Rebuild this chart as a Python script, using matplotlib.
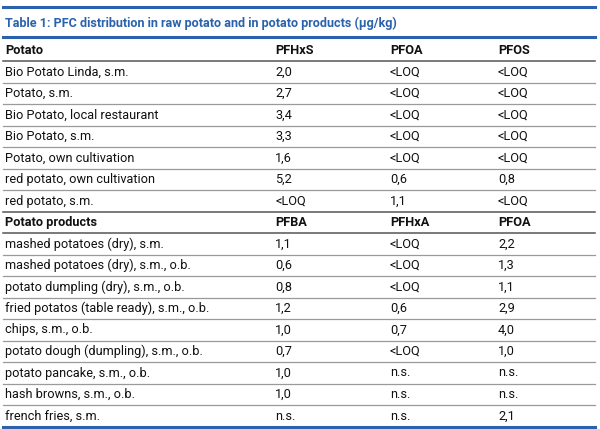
import matplotlib
matplotlib.use("Agg")
import matplotlib.pyplot as plt

plt.rcParams['font.family'] = ['Roboto', 'DejaVu Sans']

title = 'Table 1: PFC distribution in raw potato and in potato products (µg/kg)'

header1 = ['Potato', 'PFHxS', 'PFOA', 'PFOS']
potato = ['Bio Potato Linda, s.m.', 'Potato, s.m.', 'Bio Potato, local restaurant',
          'Bio Potato, s.m.', 'Potato, own cultivation', 'red potato, own cultivation',
          'red potato, s.m.']
pfhxs = ['2,0', '2,7', '3,4', '3,3', '1,6', '5,2', '<LOQ']
pfoa1 = ['<LOQ', '<LOQ', '<LOQ', '<LOQ', '<LOQ', '0,6', '1,1']
pfos = ['<LOQ', '<LOQ', '<LOQ', '<LOQ', '<LOQ', '0,8', '<LOQ']

header2 = ['Potato products', 'PFBA', 'PFHxA', 'PFOA']
products = ['mashed potatoes (dry), s.m.', 'mashed potatoes (dry), s.m., o.b.',
            'potato dumpling (dry), s.m., o.b.', 'fried potatos (table ready), s.m., o.b.',
            'chips, s.m., o.b.', 'potato dough (dumpling), s.m., o.b.',
            'potato pancake, s.m., o.b.', 'hash browns, s.m., o.b.', 'french fries, s.m.']
pfba = ['1,1', '0,6', '0,8', '1,2', '1,0', '0,7', '1,0', '1,0', 'n.s.']
pfhxa = ['<LOQ', '<LOQ', '<LOQ', '0,6', '0,7', '<LOQ', 'n.s.', 'n.s.', 'n.s.']
pfoa2 = ['2,2', '1,3', '1,1', '2,9', '4,0', '1,0', 'n.s.', 'n.s.', '2,1']

# rows: (cells, is_header)
rows = [(header1, True)]
rows += [([a, b, c, d], False) for a, b, c, d in zip(potato, pfhxs, pfoa1, pfos)]
rows += [(header2, True)]
rows += [([a, b, c, d], False) for a, b, c, d in zip(products, pfba, pfhxa, pfoa2)]

blue = '#2c62ad'
col_x = [5, 275, 390, 498]
x0, x1 = 3, 595
top_line = 7
title_y = 23
title_line = 37
first_y = 50.5
pitch = 21.5
first_sep = 61

fig = plt.figure(figsize=(6, 4.29), dpi=100)
ax = fig.add_axes([0, 0, 1, 1])
ax.set_xlim(0, 600)
ax.set_ylim(429, 0)
ax.axis('off')

ax.plot([x0, x1], [top_line, top_line], color=blue, lw=2.2)
ax.text(col_x[0], title_y, title, color=blue, fontsize=9.1, fontweight='bold',
        va='center', ha='left')
ax.plot([x0, x1], [title_line, title_line], color=blue, lw=2.2)

for i, (cells, is_head) in enumerate(rows):
    y = first_y + i * pitch
    for x, s in zip(col_x, cells):
        ax.text(x, y, s, fontsize=9.2, va='center', ha='left', color='#111111',
                fontweight='bold' if is_head else 'normal')
    if i < len(rows) - 1:
        sy = first_sep + i * pitch
        dark = is_head or rows[i + 1][1]
        ax.plot([x0, x1], [sy, sy], color='#555555' if dark else '#9a9a9a',
                lw=1.1 if dark else 0.9)

bottom = first_sep + (len(rows) - 1) * pitch
ax.plot([x0, x1], [bottom, bottom], color=blue, lw=2.2)

fig.savefig('out.png', dpi=100)
